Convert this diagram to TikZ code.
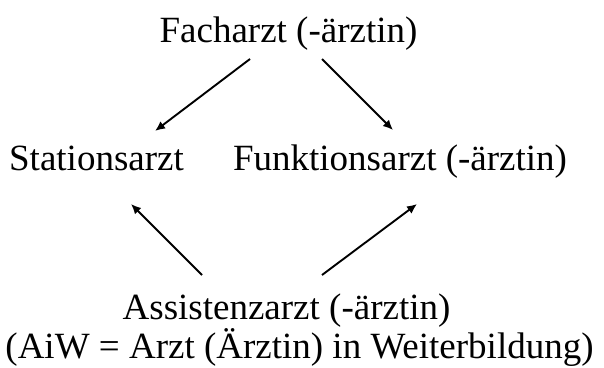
\documentclass[tikz,border=0pt]{standalone}
\usepackage{fontspec}
\setmainfont{Liberation Serif}
\usetikzlibrary{arrows.meta}

\begin{document}
\begin{tikzpicture}[x=1pt, y=-1pt,
        lbl/.style={inner sep=0pt, anchor=base, font=\fontsize{37}{44}\selectfont},
        arr/.style={line width=1.9pt, -{Latex[length=10pt, width=9pt]}}]
        \useasboundingbox (0,0) rectangle (604,367);
        \node (fach) [lbl] at (288.5,42) {Facharzt (-ärztin)};
        \node (station) [lbl] at (96.5,170.5) {Stationsarzt};
        \node (funktion) [lbl] at (400,170.5) {Funktionsarzt (-ärztin)};
        \node (assist) [lbl] at (286.5,319) {Assistenzarzt (-ärztin)};
        \node (aiw) [lbl] at (299.5,358.5) {(AiW = Arzt (Ärztin) in Weiterbildung)};
        \draw[arr] ([xshift=-38.5pt, yshift=-17pt]fach.base) -- ([xshift=58.5pt, yshift=39.5pt]station.base);
        \draw[arr] ([xshift=33.5pt, yshift=-17pt]fach.base) -- ([xshift=-7pt, yshift=40.5pt]funktion.base);
        \draw[arr] ([xshift=-84.5pt, yshift=44pt]assist.base) -- ([xshift=34.5pt, yshift=-33.5pt]station.base);
        \draw[arr] ([xshift=35.5pt, yshift=44pt]assist.base) -- ([xshift=17pt, yshift=-33.5pt]funktion.base);
    \end{tikzpicture}
\end{document}
